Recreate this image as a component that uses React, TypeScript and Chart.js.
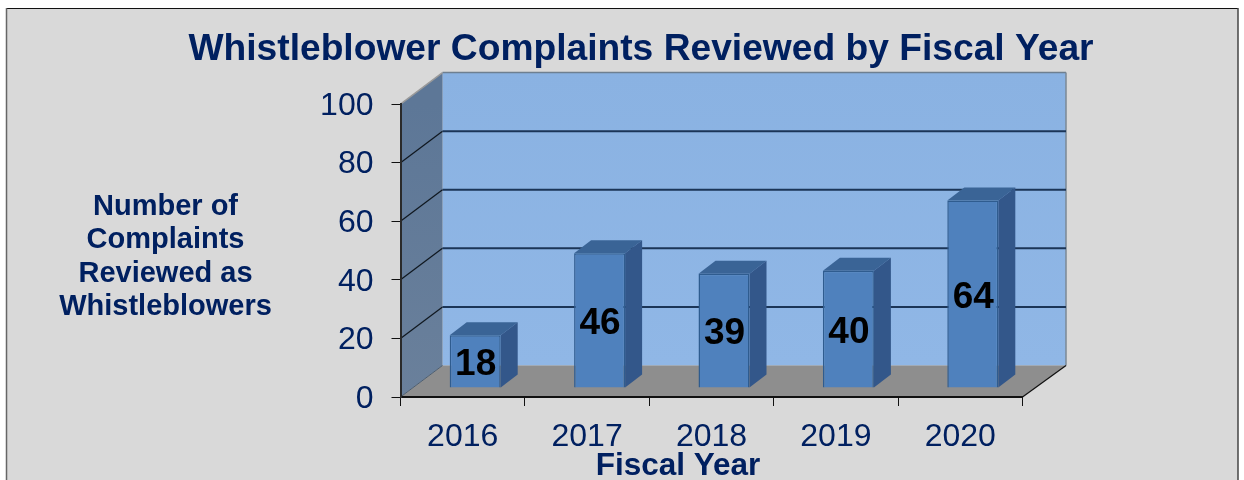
import React, { useEffect, useRef } from "react";
import { Chart, registerables } from "chart.js";

Chart.register(...registerables);

const titleText = "Whistleblower Complaints Reviewed by Fiscal Year";
const categories = ["2016", "2017", "2018", "2019", "2020"];
const complaints = [18, 46, 39, 40, 64];
const yAxisTitleLines = ["Number of", "Complaints", "Reviewed as", "Whistleblowers"];
const xAxisTitle = "Fiscal Year";

const NAVY = "#002060";
const FONT = "'Liberation Sans', Arial, sans-serif";
const DEPTH_X = 42;
const DEPTH_Y = -31.5;
const BAR_SHIFT_X = 12.5;
const BAR_SHIFT_Y = -9;
const BAR_DEPTH_X = 17;
const BAR_DEPTH_Y = -13;

const poly = (ctx: CanvasRenderingContext2D, pts: number[][], fill: any) => {
  ctx.beginPath();
  pts.forEach(([x, y], i) => (i ? ctx.lineTo(x, y) : ctx.moveTo(x, y)));
  ctx.closePath();
  ctx.fillStyle = fill;
  ctx.fill();
};

const line = (ctx: CanvasRenderingContext2D, x1: number, y1: number, x2: number, y2: number, color: string, w: number) => {
  ctx.beginPath();
  ctx.moveTo(x1, y1);
  ctx.lineTo(x2, y2);
  ctx.strokeStyle = color;
  ctx.lineWidth = w;
  ctx.stroke();
};

const scenePlugin = {
  id: "scene3d",
  afterLayout(chart: any) {
    // the title is centred over the panel, to the left of the plot's own centre
    if (chart.titleBlock) {
      chart.titleBlock.left = 38;
      chart.titleBlock.right = 1244;
    }
  },
  beforeDraw(chart: any) {
    const { ctx, chartArea: a, scales } = chart;
    const { left: l, right: r, top: t, bottom: b } = a;
    const dx = DEPTH_X;
    const dy = DEPTH_Y;
    ctx.save();
    // page panel and frame
    ctx.fillStyle = "#ffffff";
    ctx.fillRect(0, 0, chart.width, chart.height);
    ctx.fillStyle = "#d9d9d9";
    ctx.fillRect(6, 8, 1232, 472);
    line(ctx, 6, 8.5, 1238, 8.5, "#111111", 1);
    line(ctx, 6.5, 8, 6.5, 480, "#666666", 1.5);
    line(ctx, 1238, 8, 1238, 480, "#444444", 1.5);

    // back wall
    const wall = ctx.createLinearGradient(0, t + dy, 0, b + dy);
    wall.addColorStop(0, "#8ab2e2");
    wall.addColorStop(1, "#90b7e6");
    ctx.fillStyle = wall;
    ctx.fillRect(l + dx, t + dy, r - l + 1.5, b - t);
    line(ctx, l + dx, t + dy, r + dx + 1.5, t + dy, "#6e7f90", 1.5);
    line(ctx, r + dx + 1.5, t + dy, r + dx + 1.5, b + dy, "#7b8894", 1.5);

    // floor
    poly(ctx, [[l, b], [r, b], [r + dx + 1.5, b + dy], [l + dx, b + dy]], "#8e8e8e");

    // side wall
    const side = ctx.createLinearGradient(0, t, 0, b);
    side.addColorStop(0, "#5d7797");
    side.addColorStop(1, "#6a809b");
    poly(ctx, [[l, t], [l + dx, t + dy], [l + dx, b + dy], [l, b]], side);
    line(ctx, l, t, l + dx, t + dy, "#9a9a9a", 1.5);
    line(ctx, l, b, l + dx, b + dy, "#4f5f70", 1);

    // grid lines carried round the walls
    scales.y.ticks.forEach((tick: any) => {
      if (tick.value === 0 || tick.value === scales.y.max) return;
      const y = scales.y.getPixelForValue(tick.value);
      line(ctx, l, y, l + dx, y + dy, "#101820", 1.25);
      line(ctx, l + dx, y + dy, r + dx + 1.5, y + dy, "#1b3557", 2);
    });
    line(ctx, r, b, r + dx + 1.5, b + dy, "#111111", 1.25);
    ctx.restore();
  },
  beforeDatasetDraw(chart: any) {
    const { ctx } = chart;
    ctx.save();
    ctx.translate(BAR_SHIFT_X, BAR_SHIFT_Y);
    chart.getDatasetMeta(0).data.forEach((el: any) => {
      const right = el.x + el.width / 2;
      const left = el.x - el.width / 2;
      poly(ctx, [[left, el.y], [right, el.y], [right + BAR_DEPTH_X, el.y + BAR_DEPTH_Y], [left + BAR_DEPTH_X, el.y + BAR_DEPTH_Y]], "#3a6496");
      poly(ctx, [[right, el.y], [right + BAR_DEPTH_X, el.y + BAR_DEPTH_Y], [right + BAR_DEPTH_X, el.base + BAR_DEPTH_Y], [right, el.base]], "#33578a");
    });
  },
  afterDatasetDraw(chart: any) {
    chart.ctx.restore();
  },
  afterDatasetsDraw(chart: any) {
    const { ctx } = chart;
    ctx.save();
    ctx.textAlign = "center";
    ctx.textBaseline = "middle";
    ctx.fillStyle = "#000000";
    ctx.font = `bold 37px ${FONT}`;
    chart.getDatasetMeta(0).data.forEach((el: any, i: number) => {
      ctx.fillText(String(complaints[i]), el.x + BAR_SHIFT_X + 0.5, (el.y + el.base) / 2 + BAR_SHIFT_Y + 3.5);
    });
    ctx.fillStyle = NAVY;
    ctx.font = `bold 29px ${FONT}`;
    yAxisTitleLines.forEach((t, i) => ctx.fillText(t, 165.5, 206.5 + i * 33.6));
    ctx.font = `bold 31.5px ${FONT}`;
    ctx.fillText(xAxisTitle, 678, 466.5);
    ctx.restore();
  },
};

export default function App() {
  const ref = useRef<HTMLCanvasElement | null>(null);
  useEffect(() => {
    if (!ref.current) return;
    const chart = new Chart(ref.current, {
      type: "bar",
      data: {
        labels: categories,
        datasets: [
          {
            label: "Complaints reviewed",
            data: complaints,
            backgroundColor: "#4f81bd",
            borderColor: "#2f5c8f",
            borderWidth: 1.5,
            categoryPercentage: 1,
            barPercentage: 0.41,
            clip: false,
          } as any,
        ],
      },
      options: {
        responsive: false,
        animation: false,
        layout: { padding: { left: 0, right: 221.5, top: 0, bottom: 0 } },
        plugins: {
          legend: { display: false },
          tooltip: { enabled: false },
          title: {
            display: true,
            text: titleText,
            color: NAVY,
            font: { family: FONT, size: 37.2, weight: "bold" },
            padding: { top: 27.2, bottom: 32.2 },
          },
        },
        scales: {
          x: {
            offset: true,
            grid: { offset: true, drawOnChartArea: false, tickLength: 9, color: "#111111", lineWidth: 1 },
            border: { color: "#111111", width: 2 },
            ticks: { color: NAVY, font: { family: FONT, size: 32 }, padding: 11.5, maxRotation: 0 },
            afterFit: (s: any) => { s.height = 83; },
          },
          y: {
            min: 0,
            max: 100,
            grid: { drawOnChartArea: false, tickLength: 9, color: "#111111", lineWidth: 1 },
            border: { color: "#2a2a2a", width: 2 },
            ticks: { stepSize: 20, color: NAVY, font: { family: FONT, size: 32 }, padding: 18, labelOffset: 2 },
            afterFit: (s: any) => { s.width = 400.5; },
          },
        },
      },
      plugins: [scenePlugin],
    } as any);
    return () => chart.destroy();
  }, []);
  return (
    <div style={{ position: "absolute", left: 0, top: 0, width: 1244, height: 480, overflow: "hidden" }}>
      <canvas ref={ref} width={1244} height={480} style={{ display: "block" }} />
    </div>
  );
}
